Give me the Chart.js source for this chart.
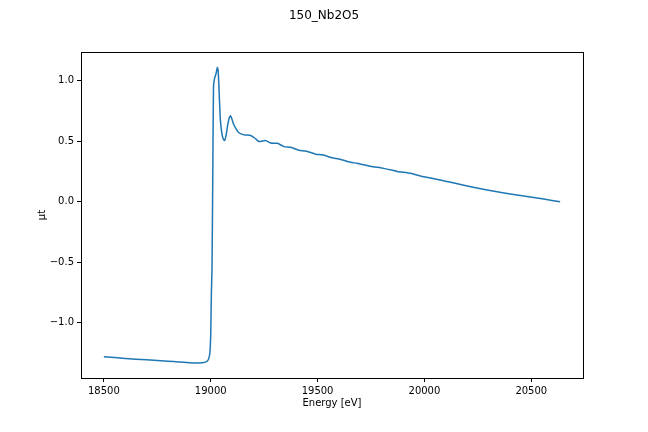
<!DOCTYPE html>
<html>
<head>
<meta charset="utf-8">
<script src="https://cdn.jsdelivr.net/npm/chart.js@4.4.1/dist/chart.umd.min.js"></script>
<style>
  html, body { margin: 0; padding: 0; background: #fff; }
  #wrap { width: 648px; height: 432px; }
</style>
</head>
<body>
<div id="wrap"><canvas id="xasChart" width="648" height="432"></canvas></div>
<script>
// --- data ---
const energy = [
    18500, 18600, 18700, 18800, 18850, 18900, 18930, 18960, 18975, 18985,
    18991, 18996, 19000, 19003, 19006, 19010, 19013, 19018, 19025, 19031,
    19035, 19040, 19045, 19051, 19058, 19065, 19072, 19080, 19088, 19093,
    19100, 19107, 19114, 19132, 19156, 19187, 19207, 19226, 19257, 19280,
    19312, 19343, 19374, 19413, 19444, 19491, 19522, 19569, 19600, 19654,
    19685, 19748, 19810, 19872, 19935, 19981, 20090, 20246, 20402, 20558,
    20635
];
const mu = [
    -1.282, -1.295, -1.307, -1.318, -1.325, -1.330, -1.332, -1.331, -1.326, -1.315,
    -1.295, -1.25, -1.10, -0.76, -0.55, 0.30, 0.95, 1.02, 1.06, 1.11,
    1.08, 0.88, 0.68, 0.58, 0.52, 0.506, 0.55, 0.64, 0.70, 0.71,
    0.68, 0.64, 0.617, 0.57, 0.553, 0.548, 0.525, 0.498, 0.506, 0.486,
    0.483, 0.456, 0.450, 0.425, 0.420, 0.393, 0.388, 0.363, 0.354, 0.326,
    0.318, 0.293, 0.276, 0.251, 0.235, 0.213, 0.174, 0.114, 0.064, 0.022,
    0.0
];
const xTicks = [18500, 19000, 19500, 20000, 20500];
const yTicks = [-1.0, -0.5, 0.0, 0.5, 1.0];

const font = 'DejaVu Sans';

// spines on all four sides and a figure-centred title, like matplotlib
const framePlugin = {
    id: 'frame',
    afterDraw(chart) {
        const { ctx, chartArea: a } = chart;
        ctx.save();
        ctx.strokeStyle = '#000';
        ctx.lineWidth = 1;
        ctx.strokeRect(Math.round(a.left) + 0.5, Math.round(a.top) + 0.5,
            Math.round(a.right - a.left), Math.round(a.bottom - a.top));
        ctx.fillStyle = '#000';
        ctx.font = '12px "' + font + '"';
        ctx.textAlign = 'center';
        ctx.textBaseline = 'middle';
        ctx.fillText('150_Nb2O5', chart.width / 2, 16);
        ctx.restore();
    }
};

const ctx = document.getElementById('xasChart');
new Chart(ctx, {
    type: 'line',
    data: {
        datasets: [{
            data: energy.map((e, i) => ({ x: e, y: mu[i] })),
            borderColor: '#1f77b4',
            borderWidth: 1.5,
            pointRadius: 0,
            tension: 0.2,
            fill: false
        }]
    },
    options: {
        responsive: false,
        animation: false,
        devicePixelRatio: 1,
        layout: { padding: { left: 36, right: 65, top: 52, bottom: 23 } },
        plugins: {
            legend: { display: false },
            tooltip: { enabled: false },
            title: { display: false }
        },
        scales: {
            x: {
                type: 'linear',
                min: 18393,
                max: 20742,
                afterBuildTicks: (s) => { s.ticks = xTicks.map(v => ({ value: v })); },
                afterFit: (s) => { s.height = 31; },
                grid: { drawOnChartArea: false, drawTicks: true, tickLength: 4, color: '#000' },
                border: { display: false },
                ticks: {
                    color: '#000',
                    font: { family: font, size: 10 },
                    padding: 3,
                    maxRotation: 0,
                    callback: (v) => String(v)
                },
                title: {
                    display: true,
                    text: 'Energy [eV]',
                    color: '#000',
                    font: { family: font, size: 10 },
                    padding: { top: 0, bottom: 0 }
                }
            },
            y: {
                type: 'linear',
                min: -1.457,
                max: 1.238,
                afterBuildTicks: (s) => { s.ticks = yTicks.map(v => ({ value: v })); },
                afterFit: (s) => { s.width = 45; },
                grid: { drawOnChartArea: false, drawTicks: true, tickLength: 4, color: '#000' },
                border: { display: false },
                ticks: {
                    color: '#000',
                    font: { family: font, size: 10 },
                    padding: 3,
                    callback: (v) => v.toFixed(1).replace('-', '\u2212')
                },
                title: {
                    display: true,
                    text: 'μt',
                    color: '#000',
                    font: { family: font, size: 10 },
                    padding: { top: 0, bottom: 0 }
                }
            }
        }
    },
    plugins: [framePlugin]
});
</script>
</body>
</html>
